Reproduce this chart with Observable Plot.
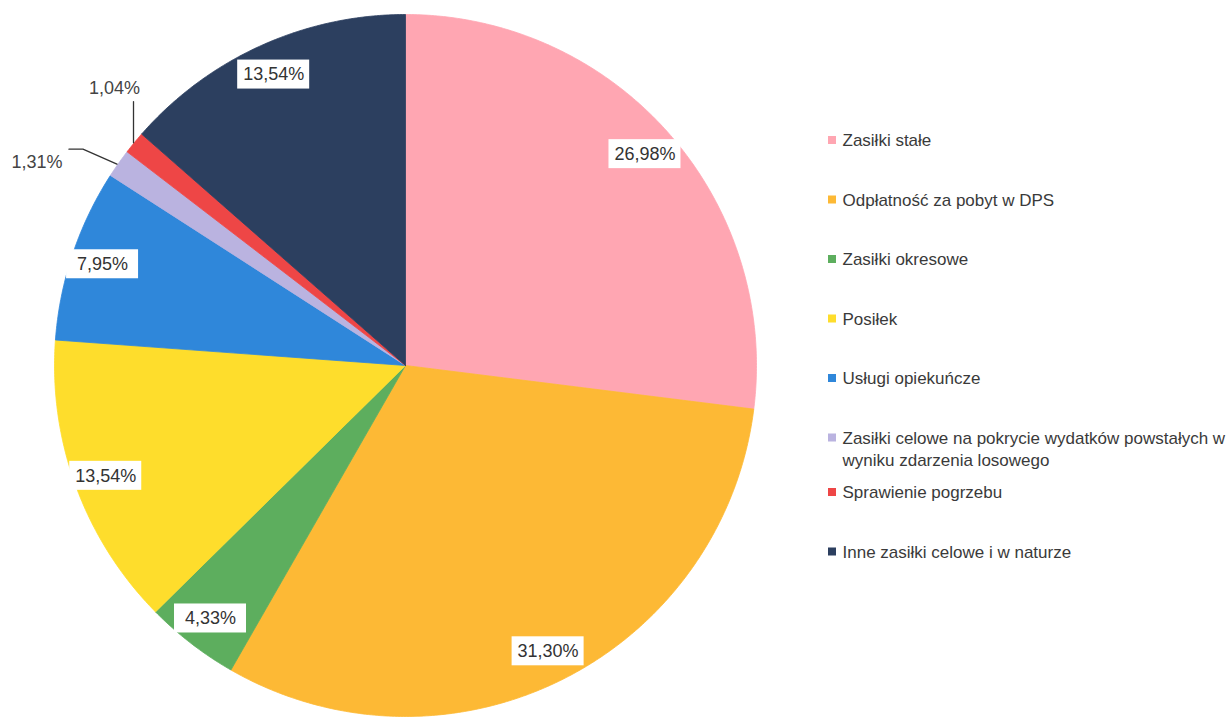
<!DOCTYPE html>
<html><head><meta charset="utf-8">
<script src="https://cdn.jsdelivr.net/npm/d3@7"></script>
<script src="https://cdn.jsdelivr.net/npm/@observablehq/plot@0.6"></script>
<style>html,body{margin:0;padding:0;background:#fff;}</style>
</head><body><div id="chart"></div>
<script>
const categories = [
  "Zasiłki stałe",
  "Odpłatność za pobyt w DPS",
  "Zasiłki okresowe",
  "Posiłek",
  "Usługi opiekuńcze",
  "Zasiłki celowe na pokrycie wydatków powstałych w\nwyniku zdarzenia losowego",
  "Sprawienie pogrzebu",
  "Inne zasiłki celowe i w naturze"
];
const values = [26.98, 31.30, 4.33, 13.54, 7.95, 1.31, 1.04, 13.54];
const labels = ["26,98%", "31,30%", "4,33%", "13,54%", "7,95%", "1,31%", "1,04%", "13,54%"];
const colors = ["#FFA6B2", "#FDB935", "#5DAE5E", "#FEDD2C", "#2F87DA", "#BAB3E0", "#EE4646", "#2C3F5F"];

const W = 1232, H = 717;
const cx = 405, cy = 365, R = 351;
const total = d3.sum(values);
const pt = (a, r) => [cx + r * Math.sin(a), cy - r * Math.cos(a)];

// slices
let acc = 0;
const slices = values.map((v, i) => {
  const a0 = acc / total * 2 * Math.PI;
  acc += v;
  const a1 = acc / total * 2 * Math.PI;
  return {i, a0, a1, mid: (a0 + a1) / 2, v};
});
const slicePts = [];
for (const s of slices) {
  const n = Math.max(4, Math.ceil((s.a1 - s.a0) * 120));
  slicePts.push({k: s.i, x: cx, y: cy});
  for (let j = 0; j <= n; j++) {
    const [x, y] = pt(s.a0 + (s.a1 - s.a0) * j / n, R);
    slicePts.push({k: s.i, x, y});
  }
  slicePts.push({k: s.i, x: cx, y: cy});
}

// inside labels
const inside = slices.filter(s => s.v > 3).map(s => {
  const [x, y] = pt(s.mid, R * 0.91);
  return {x, y, t: labels[s.i]};
});
const boxW = 72, boxH = 29;

// outside labels with leaders
const red = slices[6], lav = slices[5];
const [rx, ry] = pt(red.mid, R - 3);
const [lx, ly] = pt(lav.mid, R - 3);
const leaders = [
  {k: 0, x: rx - 3, y: ry - 2}, {k: 0, x: rx - 3, y: ry - 43},
  {k: 1, x: lx - 4, y: ly - 1}, {k: 1, x: lx - 38, y: ly - 16}, {k: 1, x: lx - 52, y: ly - 16}
];
const outside = [
  {x: rx - 22, y: ry - 56, t: labels[6]},
  {x: lx - 84, y: ly - 3, t: labels[5]}
];

// legend
const legend = categories.map((c, i) => ({
  c, i, x: 832, y: 140 + 59.5 * i - (i >= 6 ? 5 : 0)
}));

const chart = Plot.plot({
  width: W, height: H,
  margin: 0,
  x: {domain: [0, W], range: [0, W], axis: null},
  y: {domain: [0, H], range: [0, H], axis: null},
  style: {fontFamily: "Liberation Sans, Arial, sans-serif", background: "#fff"},
  marks: [
    Plot.line(slicePts, {x: "x", y: "y", z: "k", fill: d => colors[d.k], stroke: d => colors[d.k], strokeWidth: 0.8, curve: "linear"}),
    Plot.rect(inside, {x1: d => d.x - boxW / 2, x2: d => d.x + boxW / 2, y1: d => d.y - boxH / 2, y2: d => d.y + boxH / 2, fill: "#fff"}),
    Plot.text(inside, {x: "x", y: "y", text: "t", fontSize: 18, fill: "#333"}),
    Plot.line(leaders, {x: "x", y: "y", z: "k", stroke: "#333", strokeWidth: 1.3}),
    Plot.text(outside, {x: "x", y: "y", text: "t", fontSize: 18, fill: "#444"}),
    Plot.rect(legend, {x1: d => d.x - 4, x2: d => d.x + 4, y1: d => d.y - 4, y2: d => d.y + 4, fill: d => colors[d.i]}),
    Plot.text(legend, {x: d => d.x + 10, y: d => d.y - 10, text: "c", textAnchor: "start", lineAnchor: "top", lineHeight: 1.3, fontSize: 17, fill: "#3a3a3a"})
  ]
});
document.getElementById("chart").appendChild(chart);
</script>
</body></html>
